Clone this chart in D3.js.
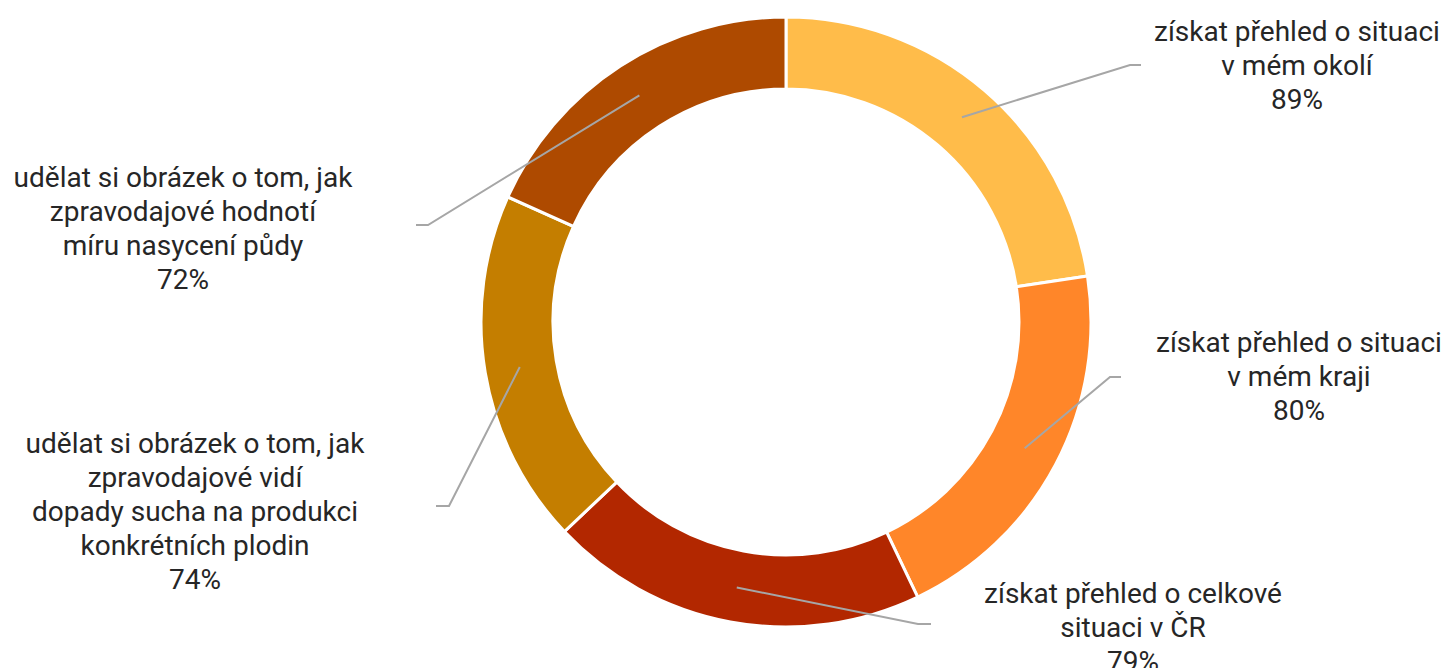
<!DOCTYPE html>
<html>
<head>
<meta charset="utf-8">
<script src="https://cdn.jsdelivr.net/npm/d3@7"></script>
<style>
  body { margin: 0; background: #fff; }
  svg { display: block; }
  .label text { font-family: Roboto, "Noto Sans", sans-serif; font-size: 28px; fill: #262626; }
</style>
</head>
<body>
<div id="chart"></div>
<script>
// Data
var categories = [
    ["získat přehled o situaci", "v mém okolí"],
    ["získat přehled o situaci", "v mém kraji"],
    ["získat přehled o celkové", "situaci v ČR"],
    ["udělat si obrázek o tom, jak", "zpravodajové vidí", "dopady sucha na produkci", "konkrétních plodin"],
    ["udělat si obrázek o tom, jak", "zpravodajové hodnotí", "míru nasycení půdy"]
];
var values = [89, 80, 79, 74, 72];
var colors = ["#FFBC4A", "#FF8629", "#B22700", "#C47E00", "#AE4A00"];

// Label layout (elbow of leader line, end of leader line, text centre and first baseline)
var labelLayout = [
    { ex: 1130, ey: 65, endX: 1141, tx: 1297, ty: 41 },
    { ex: 1110, ey: 377, endX: 1121, tx: 1299, ty: 352 },
    { ex: 918, ey: 624, endX: 931, tx: 1133, ty: 603 },
    { ex: 449, ey: 506, endX: 436, tx: 195, ty: 453 },
    { ex: 428, ey: 225, endX: 416, tx: 183, ty: 187 }
];

var width = 1448,
    height = 668;

var cx = 786, cy = 322,
    outerR = 305, innerR = 233,
    lineH = 34;

var svg = d3.select("#chart")
    .append("svg")
    .attr("width", width)
    .attr("height", height);

var g = svg.append("g").attr("transform", "translate(" + cx + "," + cy + ")");

var pie = d3.pie().sort(null).value(d => d);
var arcs = pie(values);

var arc = d3.arc().innerRadius(innerR).outerRadius(outerR);
var midArc = d3.arc().innerRadius(270).outerRadius(270);

// donut slices
g.selectAll(".slice")
    .data(arcs)
    .enter()
    .append("path")
    .attr("class", "slice")
    .attr("d", arc)
    .style("fill", (d, i) => colors[i])
    .style("stroke", "#fff")
    .style("stroke-width", 3);

// leader lines
svg.selectAll(".leader")
    .data(arcs)
    .enter()
    .append("polyline")
    .attr("class", "leader")
    .attr("points", function (d, i) {
        var c = midArc.centroid(d);
        var L = labelLayout[i];
        return [[cx + c[0], cy + c[1]], [L.ex, L.ey], [L.endX, L.ey]].join(" ");
    })
    .style("fill", "none")
    .style("stroke", "#a6a6a6")
    .style("stroke-width", 2);

// labels
var labels = svg.selectAll(".label")
    .data(arcs)
    .enter()
    .append("g")
    .attr("class", "label");

labels.each(function (d, i) {
    var L = labelLayout[i];
    var lines = categories[i].concat([values[i] + "%"]);
    var t = d3.select(this).append("text")
        .attr("text-anchor", "middle");
    lines.forEach(function (s, k) {
        t.append("tspan")
            .attr("x", L.tx)
            .attr("y", L.ty + k * lineH)
            .text(s);
    });
});
</script>
</body>
</html>
